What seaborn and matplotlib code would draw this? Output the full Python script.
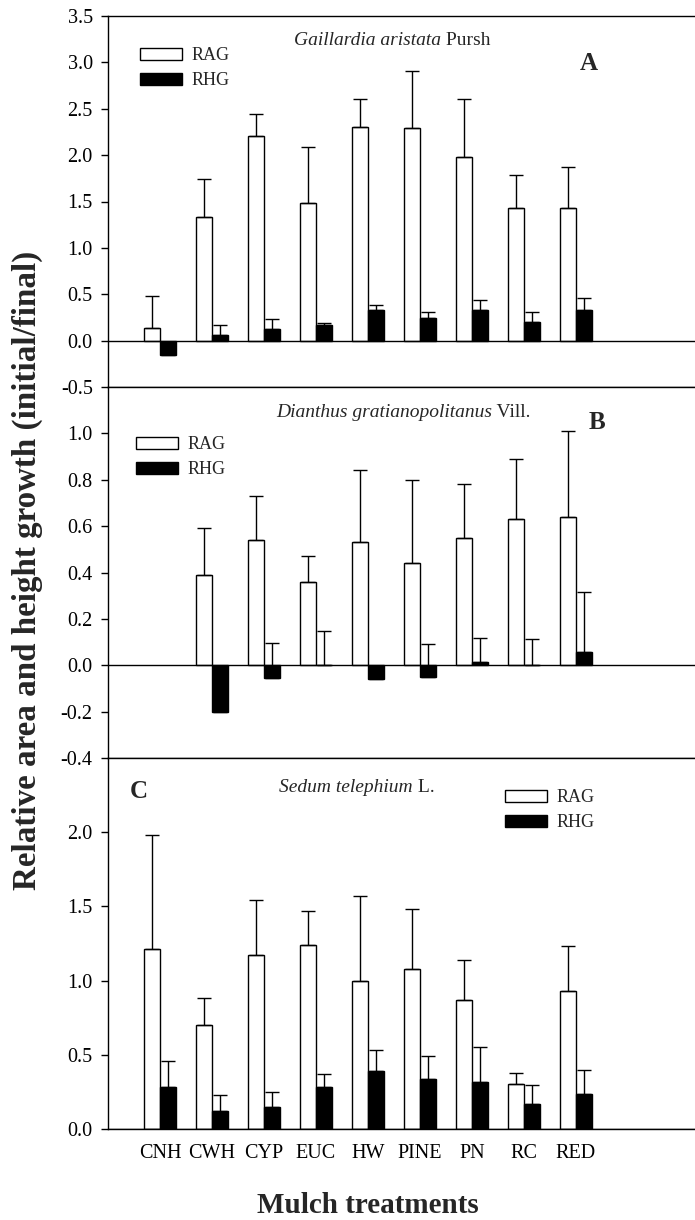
import numpy as np
import pandas as pd
import matplotlib
matplotlib.use('Agg')
import matplotlib.pyplot as plt
import seaborn as sns

# mulch treatments on the x axis
treatments = ['CNH', 'CWH', 'CYP', 'EUC', 'HW', 'PINE', 'PN', 'RC', 'RED']

# panel A - Gaillardia aristata
rag_a = [0.14, 1.33, 2.21, 1.48, 2.30, 2.29, 1.98, 1.43, 1.43]
rag_a_err = [0.34, 0.41, 0.23, 0.61, 0.31, 0.62, 0.62, 0.36, 0.44]
rhg_a = [-0.16, 0.06, 0.13, 0.17, 0.33, 0.24, 0.33, 0.20, 0.33]
rhg_a_err = [0.10, 0.11, 0.10, 0.025, 0.05, 0.07, 0.11, 0.11, 0.13]

# panel B - Dianthus gratianopolitanus (no data for CNH)
rag_b = [np.nan, 0.39, 0.54, 0.36, 0.53, 0.44, 0.55, 0.63, 0.64]
rag_b_err = [np.nan, 0.20, 0.19, 0.11, 0.31, 0.36, 0.23, 0.26, 0.37]
rhg_b = [np.nan, -0.20, -0.055, 0.0, -0.06, -0.05, 0.013, 0.003, 0.057]
rhg_b_err = [np.nan, 0.12, 0.15, 0.147, 0.04, 0.143, 0.106, 0.11, 0.26]

# panel C - Sedum telephium
rag_c = [1.21, 0.70, 1.17, 1.24, 1.00, 1.08, 0.87, 0.30, 0.93]
rag_c_err = [0.77, 0.18, 0.37, 0.23, 0.57, 0.40, 0.27, 0.075, 0.30]
rhg_c = [0.28, 0.12, 0.15, 0.285, 0.39, 0.34, 0.32, 0.167, 0.235]
rhg_c_err = [0.18, 0.11, 0.10, 0.085, 0.145, 0.155, 0.23, 0.128, 0.16]

yticks_a = [-0.5, 0.0, 0.5, 1.0, 1.5, 2.0, 2.5, 3.0, 3.5]
yticks_b = [-0.4, -0.2, 0.0, 0.2, 0.4, 0.6, 0.8, 1.0]
yticks_c = [0.0, 0.5, 1.0, 1.5, 2.0]

sns.set_theme(style='ticks')
plt.rcParams['font.family'] = ['Liberation Serif', 'DejaVu Serif']
plt.rcParams['axes.unicode_minus'] = False

W, H = 695, 1220
fig = plt.figure(figsize=(W / 100, H / 100), dpi=100)

def px(x, y):
    return x / W, 1 - y / H

panels = [
    dict(rag=rag_a, rag_err=rag_a_err, rhg=rhg_a, rhg_err=rhg_a_err, top=16, bot=387,
         ylim=(-0.5, 3.5), yticks=yticks_a, leg=(140, 68),
         sp='Gaillardia aristata', auth=' Pursh', tx=441, ty=45, letter='A', lx=580, ly=70),
    dict(rag=rag_b, rag_err=rag_b_err, rhg=rhg_b, rhg_err=rhg_b_err, top=387, bot=758,
         ylim=(-0.4, 1.2), yticks=yticks_b, leg=(136, 457),
         sp='Dianthus gratianopolitanus', auth=' Vill.', tx=492, ty=417, letter='B', lx=589, ly=429),
    dict(rag=rag_c, rag_err=rag_c_err, rhg=rhg_c, rhg_err=rhg_c_err, top=758, bot=1129,
         ylim=(0.0, 2.5), yticks=yticks_c, leg=(505, 810),
         sp='Sedum telephium', auth=' L.', tx=413, ty=792, letter='C', lx=130, ly=798),
]

left = 108
for i, p in enumerate(panels):
    ax = fig.add_axes([left / W, 1 - p['bot'] / H, (W - left) / W, (p['bot'] - p['top']) / H])
    df = pd.DataFrame({
        'treatment': treatments * 2,
        'series': ['RAG'] * 9 + ['RHG'] * 9,
        'value': p['rag'] + p['rhg'],
    }).dropna()
    sns.barplot(data=df, x='treatment', y='value', hue='series', order=treatments,
                hue_order=['RAG', 'RHG'], palette={'RAG': 'white', 'RHG': 'black'},
                edgecolor='black', linewidth=1.0, width=0.6, errorbar=None, ax=ax)
    xs = np.arange(len(treatments))
    for vals, errs, off in [(p['rag'], p['rag_err'], -0.15), (p['rhg'], p['rhg_err'], 0.15)]:
        v = np.array(vals, dtype=float)
        e = np.array(errs, dtype=float)
        ax.errorbar(xs + off, v, yerr=[np.zeros_like(e), e], fmt='none', ecolor='black',
                    elinewidth=1.0, capsize=5, capthick=1.0, zorder=3)
    ax.axhline(0, color='black', lw=1.0, zorder=4)
    ax.set_xlim(-1.0, 10.29)
    ax.set_ylim(*p['ylim'])
    ax.set_yticks(p['yticks'])
    ax.set_yticklabels([f'{t:.1f}' for t in p['yticks']])
    ax.tick_params(axis='y', direction='out', length=5, width=1, pad=6, labelsize=14.5, colors='black')
    ax.set_xlabel('')
    ax.set_ylabel('')
    ax.spines['right'].set_visible(False)
    for s in ['left', 'top', 'bottom']:
        ax.spines[s].set_color('black')
        ax.spines[s].set_linewidth(1.0)
    if i < 2:
        ax.tick_params(axis='x', length=0, labelbottom=False)
    else:
        ax.tick_params(axis='x', length=0, pad=11, labelsize=14.5, colors='black')
    handles, labels = ax.get_legend_handles_labels()
    ax.legend(handles, labels, loc='center left', bbox_to_anchor=px(*p['leg']),
              bbox_transform=fig.transFigure, frameon=False, fontsize=13,
              handlelength=2.3, handleheight=0.65, handletextpad=0.55,
              labelspacing=0.45, borderpad=0, borderaxespad=0)
    fig.text(*px(p['tx'], p['ty']), p['sp'], style='italic', fontsize=14, ha='right', va='baseline')
    fig.text(*px(p['tx'], p['ty']), p['auth'], fontsize=14, ha='left', va='baseline')
    fig.text(*px(p['lx'], p['ly']), p['letter'], fontsize=18, fontweight='bold', ha='left', va='baseline')

fig.text(*px(27, 570), 'Relative area and height growth (initial/final)', rotation=90,
         fontsize=23.8, fontweight='bold', ha='center', va='center')
fig.text(*px(368, 1213), 'Mulch treatments', fontsize=21, fontweight='bold', ha='center', va='baseline')

fig.savefig('out.png', dpi=100)
